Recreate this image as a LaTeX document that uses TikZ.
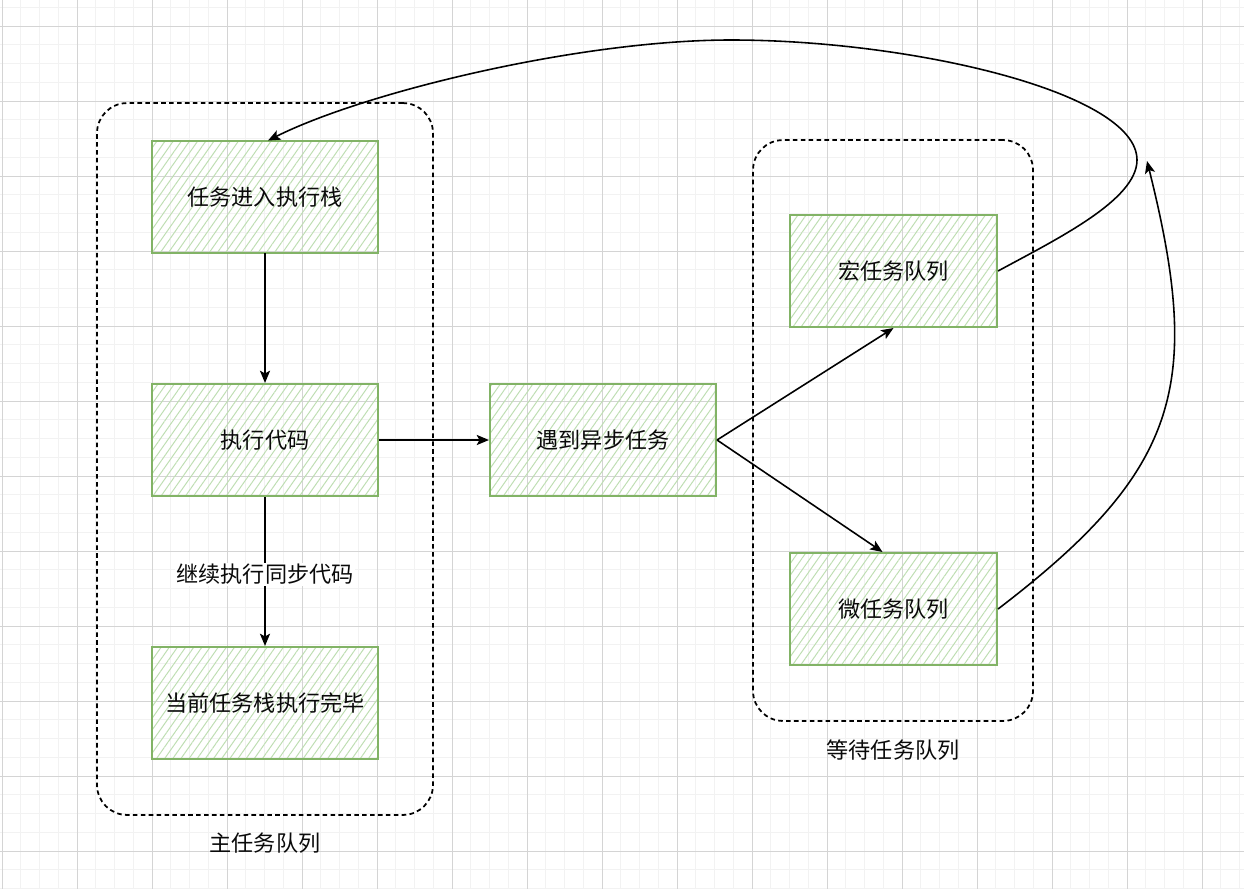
\documentclass[tikz,border=0pt]{standalone}
\usepackage{fontspec}
\setmainfont{Noto Sans CJK SC}
\usetikzlibrary{arrows.meta,patterns.meta}
\definecolor{gridminor}{RGB}{242,242,242}
\definecolor{gridmajor}{RGB}{212,212,212}
\definecolor{boxline}{RGB}{130,179,102}
\definecolor{hatch}{RGB}{190,222,178}
\definecolor{txt}{RGB}{10,10,10}
\tikzset{
  taskbox/.style={draw=boxline, line width=1.2pt,
    pattern={Lines[angle=55,distance=3.8pt,line width=0.55pt]}, pattern color=hatch,
    minimum width=4.52cm, minimum height=2.24cm, inner sep=0pt,
    font=\fontsize{12.6}{14}\selectfont, text=txt},
  queuebox/.style={taskbox, minimum width=4.14cm},
  group/.style={draw=black, line width=1pt, dash pattern=on 2.6pt off 1.9pt,
    rounded corners=0.6cm, inner sep=0pt},
  grouplabel/.style={font=\fontsize{12.6}{14}\selectfont, text=txt},
  conn/.style={draw=black, line width=0.9pt,
    -{Stealth[length=7pt,width=5.8pt,inset=1.6pt]}},
}
\begin{document}
\begin{tikzpicture}[x=0.02cm,y=-0.02cm]
\useasboundingbox (0,0) rectangle (1244,889);
\fill[white] (0,0) rectangle (1244,889);
% grid
\foreach \k in {0,...,66} {
  \draw[gridminor, line width=0.5pt] ({2+18.75*\k},0) -- ({2+18.75*\k},889);
}
\foreach \k in {0,...,47} {
  \draw[gridminor, line width=0.5pt] (0,{7.25+18.75*\k}) -- (1244,{7.25+18.75*\k});
}
\foreach \k in {0,...,16} {
  \draw[gridmajor, line width=0.5pt] ({2+75*\k},0) -- ({2+75*\k},889);
}
\foreach \k in {0,...,11} {
  \draw[gridmajor, line width=0.5pt] (0,{26+75*\k}) -- (1244,{26+75*\k});
}

% containers
\node[group, minimum width=6.72cm, minimum height=14.24cm] (maingrp) at (265,459) {};
\node[group, minimum width=5.6cm, minimum height=11.62cm] (waitgrp) at (893,430.5) {};
\node[grouplabel] (mainlbl) at (265,843) {主任务队列};
\node[grouplabel] (waitlbl) at (893,750) {等待任务队列};

% boxes
\node[taskbox] (enter) at (265,197) {任务进入执行栈};
\node[taskbox] (exec) at (265,440) {执行代码};
\node[taskbox] (done) at (265,703) {当前任务栈执行完毕};
\node[taskbox] (async) at (603,440) {遇到异步任务};
\node[queuebox] (macro) at (893.5,271) {宏任务队列};
\node[queuebox] (micro) at (893.5,609) {微任务队列};

% connectors
\draw[conn] (enter.south) -- (exec.north);
\draw[conn] (exec.south) -- node[fill=white, inner sep=1pt, pos=0.52,
  font=\fontsize{12.6}{14}\selectfont, text=txt] (synclbl) {继续执行同步代码} (done.north);
\draw[conn] (exec.east) -- (async.west);
\draw[conn] (async.east) -- (macro.south);
\draw[conn] (async.east) -- ([xshift=-0.22cm]micro.north);
\coordinate (loopR) at (1137,160);
\coordinate (loopT) at (731,40);
\draw[conn] (macro.east) .. controls (1057,239) and (1137,200) .. (loopR)
  .. controls (1137,92) and (910,40) .. (loopT)
  .. controls (580,40) and (365,92) .. ([xshift=0.06cm]enter.north);
\coordinate (microTip) at (1147,161);
\draw[conn] (micro.east) .. controls (1180,470) and (1203,385) .. (microTip);
\end{tikzpicture}
\end{document}
